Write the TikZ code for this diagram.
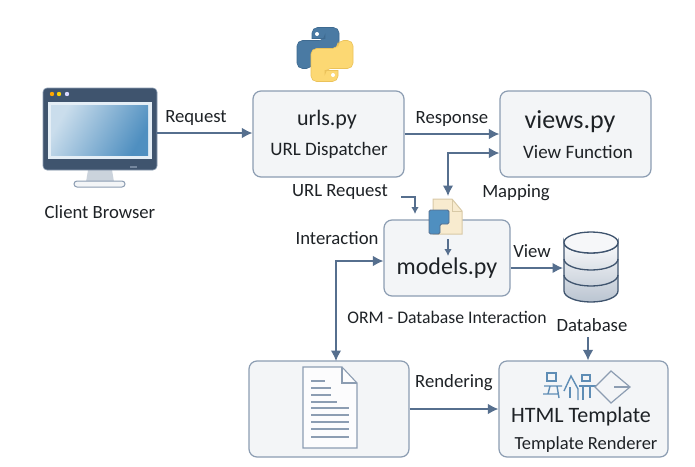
\documentclass[tikz,border=0pt]{standalone}
\usepackage{fontspec}
\setmainfont{Carlito}
\usetikzlibrary{calc,arrows.meta}
\definecolor{boxfill}{HTML}{F3F5F7}
\definecolor{boxline}{HTML}{8C9DB2}
\definecolor{arrowcol}{HTML}{566F8E}
\definecolor{pagefill}{HTML}{F8EBCF}
\definecolor{pageline}{HTML}{D8C9A6}
\definecolor{iconblue}{HTML}{4F8FC0}
\definecolor{flowblue}{HTML}{5E8DB5}
\definecolor{txtcol}{HTML}{1E2226}
\definecolor{slate}{HTML}{3F546E}
\definecolor{pyblue}{HTML}{4A7AA3}
\definecolor{pybluedark}{HTML}{3E6A90}
\definecolor{pyyellow}{HTML}{FCD873}
\definecolor{pyyellowdark}{HTML}{EBC25A}
\tikzset{
  >={Latex[length=10.5pt,width=10.5pt]},
  modbox/.style={draw=boxline,fill=boxfill,line width=1.2pt,rounded corners=8pt,inner sep=0pt},
  flow/.style={draw=arrowcol,line width=1.4pt,->},
  flowboth/.style={draw=arrowcol,line width=1.4pt,<->},
  smallflow/.style={draw=arrowcol,line width=1.2pt,-{Latex[length=7pt,width=7.5pt]}},
  lab/.style={text=txtcol,font=\fontsize{18.7}{22}\selectfont,inner sep=0pt},
  title/.style={text=txtcol,font=\fontsize{22}{26}\selectfont,inner sep=0pt},
  subtitle/.style={text=txtcol,font=\fontsize{19}{22}\selectfont,inner sep=0pt},
  docline/.style={draw=boxline,line width=1.1pt},
  glyph/.style={draw=flowblue,line width=1.4pt}
}
\begin{document}
\begin{tikzpicture}[x=1pt,y=-1pt]
    \useasboundingbox (0,0) rectangle (695,466);
    \fill[white] (0,0) rectangle (695,466);

    \node[modbox,minimum width=151pt,minimum height=86pt] (urls) at (328.5,134) {};
    \node[modbox,minimum width=151pt,minimum height=86pt] (views) at (575.5,134) {};
    \node[modbox,minimum width=126pt,minimum height=76pt] (models) at (447,258) {};
    \node[modbox,minimum width=160pt,minimum height=96pt] (render) at (329,409) {};
    \node[modbox,minimum width=169pt,minimum height=96pt] (html) at (583.5,409) {};

    \node[title] (urlsname) at (327,120) {urls.py};
    \node[subtitle] (urlssub) at (329,150) {URL Dispatcher};
    \node[title,font=\fontsize{26}{30}\selectfont] (viewsname) at (570,122) {views.py};
    \node[subtitle] (viewssub) at (578,152) {View Function};
    \node[title,font=\fontsize{24}{28}\selectfont] (modelsname) at (447,268) {models.py};
    \node[title] (htmlname) at (581,417) {HTML Template};
    \node[subtitle,font=\fontsize{18.5}{22}\selectfont] (htmlsub) at (586,445) {Template Renderer};

    \node[lab] (reqlab) at (196,118) {Request};
    \node[lab] (resplab) at (452,119) {Response};
    \node[lab] (urlreqlab) at (340,192) {URL Request};
    \node[lab] (maplab) at (516,193) {Mapping};
    \node[lab] (intlab) at (337,238) {Interaction};
    \node[lab] (viewlab) at (532,251) {View};
    \node[lab,font=\fontsize{17.7}{21}\selectfont] (ormlab) at (447,317) {ORM - Database Interaction};
    \node[lab] (dblab) at (592,325) {Database};
    \node[lab] (rendlab) at (454,383) {Rendering};
    \node[lab] (clientlab) at (100,212) {Client Browser};

    % monitor
    \fill[boxline!45] (88,170) -- (112,170) -- (114,182) -- (86,182) -- cycle;
    \draw[fill=boxfill,draw=boxline,line width=1pt,rounded corners=3pt] (74,181) rectangle (125,187);
    \node[fill=slate,draw=boxline,line width=.6pt,rounded corners=4pt,minimum width=114pt,minimum height=82pt,inner sep=0pt] (monitor) at (100,129) {};
    \fill[white!85!iconblue] (48,102) rectangle (152,159);
    \shade[left color=white!70!iconblue,right color=iconblue,shading angle=60] (51,105) rectangle (148,155);
    \fill[orange!70!yellow] (52,94) circle (2.2pt);
    \fill[yellow!70!orange] (59,94) circle (2.2pt);
    \fill[blue!15!white] (67,94) circle (2.2pt);
    \fill[boxline!70!slate] (130,166) rectangle (137,168);

    % python logo
    \foreach \ang/\col/\edge in {0/pyblue/pybluedark,180/pyyellow/pyyellowdark} {
      \begin{scope}[shift={(325,54.5)},rotate=\ang]
        \draw[fill=\col,draw=\edge,line width=.6pt,rounded corners=5.5pt]
          (-13,-16) -- (-13,-27) -- (14,-27) -- (14,6) -- (-13,6) -- (-13,14)
          -- (-28,14) -- (-28,-14) -- (0,-14) [sharp corners] -- (0,-16) -- cycle;
        \fill[white] (-8,-20.5) circle (2pt);
      \end{scope}
    }

    % file icon
    \node[inner sep=0pt,minimum width=33pt,minimum height=35pt] (fileicon) at (445.5,216.5) {};
    \draw[fill=pagefill,draw=pageline,line width=1pt] (433,199) -- (452,199) -- (462,211) -- (462,234) -- (433,234) -- cycle;
    \draw[pageline,line width=1pt] (452,199) -- (452,211) -- (462,211);
    \draw[fill=iconblue,draw=arrowcol,line width=.8pt,rounded corners=1.5pt] (429,210) -- (449,210) -- (449,224) -- (440,224) -- (440,234) -- (429,234) -- cycle;

    % database
    \node[inner sep=0pt,minimum width=54pt,minimum height=70pt] (db) at (591,267) {};
    \draw[top color=white!95!boxline,bottom color=boxline!60!white,draw=slate,line width=1.3pt]
      (564,242.5) arc[start angle=180,end angle=360,x radius=27pt,y radius=10.5pt] -- (618,291)
      arc[start angle=360,end angle=180,x radius=27pt,y radius=11pt] -- cycle;
    \draw[fill=white!92!boxline,draw=slate,line width=1.3pt] (591,242.5) ellipse[x radius=27pt,y radius=10.5pt];
    \draw[slate,line width=1.3pt] (564,259) arc[start angle=180,end angle=360,x radius=27pt,y radius=11pt];
    \draw[slate,line width=1.3pt] (564,275) arc[start angle=180,end angle=360,x radius=27pt,y radius=11pt];

    % document
    \draw[fill=white!97!boxline,draw=boxline,line width=1.1pt] (303,367) -- (342,367) -- (357,383) -- (357,448) -- (303,448) -- cycle;
    \draw[boxline,line width=1.1pt] (342,367) -- (342,383) -- (357,383);
    \foreach \ypos/\xend in {381/325,388/331,395/331,402/337,408/349,415/349,422/349,429/349,437/349} {
      \draw[docline] (311,\ypos) -- (\xend,\ypos);
    }

    % template glyphs
    \draw[glyph] (547,373) -- (556,373) -- (556,381) -- (547,381) -- cycle;
    \draw[glyph] (544,386) -- (562,386) (550,386) -- (548,394) (543,394) -- (558,394) (557,386) -- (559,398);
    \draw[glyph] (564,391) -- (571,376) -- (578,389) -- (578,400);
    \draw[glyph] (570,387) -- (570,398);
    \draw[glyph] (582,375) -- (590,375) -- (590,381) -- (582,381) -- cycle;
    \draw[glyph] (579,386) -- (596,386) (583,386) -- (583,400) (590,386) -- (590,398);
    \draw[draw=boxline,line width=1.2pt] (595,387) -- (611,371) -- (630,387) -- (611,403) -- cycle;
    \draw[glyph,draw=boxline] (614,387) -- (630,387);

    % connectors
    \coordinate (reqstart) at (156,133);
    \coordinate (reqend) at (urls.west |- reqstart);
    \coordinate (mapend) at (views.west |- 0,153);
    \coordinate (mapturn) at (448,153);
    \coordinate (mapdown) at (448,196);
    \coordinate (urlreqstart) at (401,197);
    \coordinate (urlreqend) at (415,214);
    \coordinate (innerend) at (448,256);
    \coordinate (innerstart) at (448,239);
    \coordinate (intend) at (models.west |- 0,261);
    \coordinate (intdoc) at (336,361);
    \coordinate (viewstart) at (models.east |- 0,268);
    \coordinate (viewend) at (563,268);
    \coordinate (dbstart) at (588,337);
    \coordinate (dbend) at (html.north -| dbstart);

    \draw[flow] (reqstart) -- (reqend);
    \draw[flow] (urls) -- (views);
    \draw[flowboth] (mapend) -- (mapturn) -- (mapdown);
    \draw[smallflow] (urlreqstart) -| (urlreqend);
    \draw[smallflow] (innerstart) -- (innerend);
    \draw[flowboth] (intend) -| (intdoc);
    \draw[flow] (viewstart) -- (viewend);
    \draw[flow] (dbstart) -- (dbend);
    \draw[flow] (render.east) -- (html.west);
\end{tikzpicture}
\end{document}
